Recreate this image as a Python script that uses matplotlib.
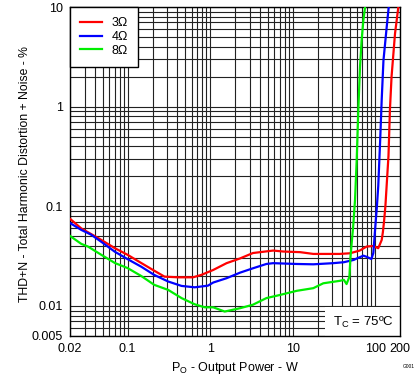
import numpy as np
import matplotlib
matplotlib.use("Agg")
from matplotlib import pyplot as plt
from matplotlib.patches import Rectangle
from matplotlib.ticker import LogLocator, NullFormatter

plt.rcParams['font.family'] = ['Liberation Sans', 'DejaVu Sans']

# THD+N vs output power
p_3ohm = [0.02, 0.0274, 0.033, 0.048, 0.07, 0.10, 0.146, 0.21, 0.28, 0.41, 0.62, 0.78,
          1.09, 1.58, 2.3, 3.3, 5.8, 7.7, 12.3, 17.8, 37, 49.5, 65, 79, 95, 109,
          120, 124, 128, 133, 140, 145, 151, 158, 174, 191]
thd_3ohm = [0.075, 0.060, 0.055, 0.046, 0.038, 0.0326, 0.027, 0.0226, 0.0197, 0.0194, 0.0194, 0.0205,
            0.023, 0.0269, 0.030, 0.034, 0.036, 0.0352, 0.0347, 0.0333, 0.0333, 0.0338, 0.036, 0.0395, 0.040, 0.038,
            0.046, 0.055, 0.07, 0.10, 0.2, 0.32, 0.93, 2.0, 5.4, 10]

p_4ohm = [0.02, 0.0274, 0.036, 0.048, 0.07, 0.10, 0.146, 0.21, 0.31, 0.45, 0.65, 0.94,
          1.09, 1.58, 2.3, 3.3, 4.8, 5.8, 11.2, 17.8, 31, 41.7, 55, 60, 72, 80, 90,
          95, 100, 105, 109, 115, 120, 126, 138, 146]
thd_4ohm = [0.068, 0.058, 0.052, 0.044, 0.035, 0.0295, 0.0248, 0.0205, 0.0176, 0.0159, 0.0154, 0.0160,
            0.0172, 0.019, 0.0216, 0.0239, 0.0264, 0.0269, 0.0264, 0.0262, 0.0269, 0.0275, 0.029, 0.030, 0.032, 0.031, 0.0296,
            0.034, 0.06, 0.10, 0.16, 0.46, 1.17, 2.9, 6.3, 10]

p_8ohm = [0.02, 0.0274, 0.033, 0.048, 0.07, 0.10, 0.146, 0.21, 0.31, 0.45, 0.65, 0.86,
          1.09, 1.5, 2.3, 3.3, 4.8, 7.0, 11.2, 17.8, 23.5, 37.5, 41.7, 45, 48.7,
          50.2, 54.3, 57, 59.7, 62.5, 65.5, 68.6, 72, 75.5]
thd_8ohm = [0.0505, 0.042, 0.0395, 0.0326, 0.027, 0.024, 0.020, 0.0163, 0.0145, 0.012, 0.0104, 0.0097,
            0.0097, 0.0088, 0.0095, 0.0103, 0.012, 0.0129, 0.0142, 0.0151, 0.0169, 0.0179, 0.0183, 0.0166, 0.0196,
            0.031, 0.065, 0.116, 0.29, 0.93, 2.5, 4.7, 7.4, 10]

x_ticks = [0.02, 0.1, 1, 10, 100, 200]
x_tick_labels = ['0.02', '0.1', '1', '10', '100', '200']
y_ticks = [0.005, 0.01, 0.1, 1, 10]
y_tick_labels = ['0.005', '0.01', '0.1', '1', '10']

fig = plt.figure(figsize=(4.19, 3.82), dpi=100)
ax = fig.add_axes([70 / 419, 1 - 336 / 382, 330 / 419, 329 / 382])

ax.set_xscale('log')
ax.set_yscale('log')
ax.set_xlim(0.02, 200)
ax.set_ylim(0.005, 10)

ax.plot(p_3ohm, thd_3ohm, color='#ff0000', lw=1.6, label='3\u03a9', zorder=3)
ax.plot(p_4ohm, thd_4ohm, color='#0000ff', lw=1.6, label='4\u03a9', zorder=3)
ax.plot(p_8ohm, thd_8ohm, color='#00ee00', lw=1.6, label='8\u03a9', zorder=3)

# grid: major + minor decades
ax.xaxis.set_minor_locator(LogLocator(base=10, subs=np.arange(2, 10)))
ax.yaxis.set_minor_locator(LogLocator(base=10, subs=np.arange(2, 10)))
ax.xaxis.set_minor_formatter(NullFormatter())
ax.yaxis.set_minor_formatter(NullFormatter())
ax.set_xticks(x_ticks)
ax.set_xticklabels(x_tick_labels)
ax.set_yticks(y_ticks)
ax.set_yticklabels(y_tick_labels)
ax.grid(True, which='both', color='#222222', lw=0.8)
ax.tick_params(which='both', length=0, labelsize=9, pad=5)

for s in ax.spines.values():
    s.set_color('black')
    s.set_linewidth(1.0)

# white box for the case temperature note
ax.add_patch(Rectangle((24.6, 0.005), 200 - 24.6, 0.0098 - 0.005,
                       facecolor='white', edgecolor='none', zorder=1.8))
ax.text(169, 0.0068, 'T$_\\mathregular{C}$ = 75\u00baC', fontsize=9.5,
        ha='right', va='center', zorder=4)

leg = ax.legend(loc='upper left', bbox_to_anchor=(0, 1), borderaxespad=0,
                fontsize=9, fancybox=False, framealpha=1, edgecolor='black',
                handlelength=1.75, labelspacing=0.15, borderpad=0.8, handletextpad=0.75)
leg.get_frame().set_linewidth(1.0)
leg.set_zorder(5)

ax.set_xlabel('P$_\\mathregular{O}$ - Output Power - W', fontsize=9, labelpad=4)
ax.set_ylabel('THD+N - Total Harmonic Distortion + Noise - %', fontsize=8.8)
ax.yaxis.set_label_coords(-0.118, 0.491)

fig.text(415 / 419, 1 - 367 / 382, 'G001', fontsize=3.5, ha='right', va='center')

fig.savefig('out.png', dpi=100)
